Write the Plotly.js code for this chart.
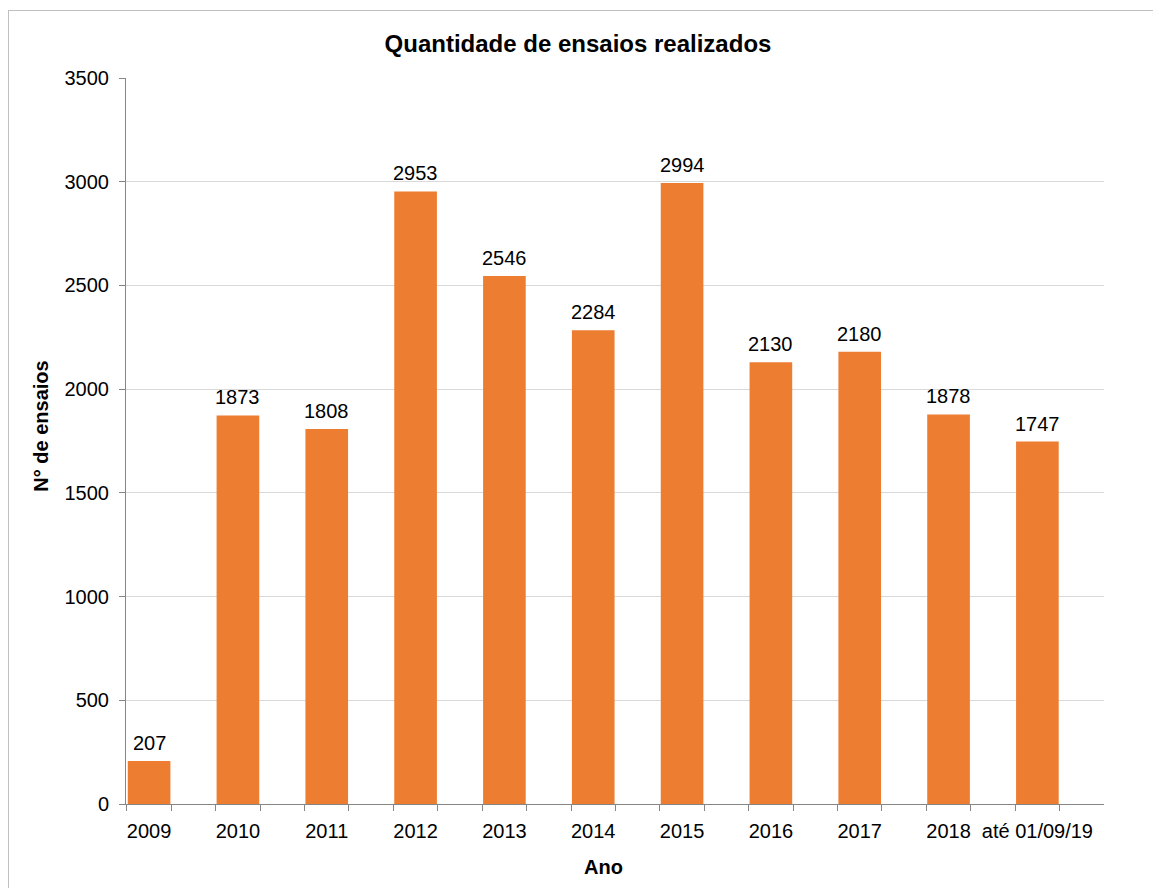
<!DOCTYPE html>
<html>
<head>
<meta charset="utf-8">
<script src="https://cdn.plot.ly/plotly-3.0.1.min.js"></script>
<style>
  html, body { margin: 0; padding: 0; background: #fff; }
  #chart { width: 1153px; height: 888px; position: absolute; left: 0; top: 0; }
  #frame { position: absolute; left: 8px; top: 10px; width: 1200px; height: 900px;
           border: 1px solid #c0c0c0; pointer-events: none; }
</style>
</head>
<body>
<div id="chart"></div>
<div id="frame"></div>
<script>
const categories = ["2009", "2010", "2011", "2012", "2013", "2014", "2015", "2016", "2017", "2018", "até 01/09/19"];
const values = [207, 1873, 1808, 2953, 2546, 2284, 2994, 2130, 2180, 1878, 1747];
const yTicks = [0, 500, 1000, 1500, 2000, 2500, 3000, 3500];

const FONT = "Liberation Sans, Arial, sans-serif";
const FS = 20;
const idx = categories.map((c, i) => i);
const barW = 0.48;
const edgeTicks = [];
idx.forEach(i => { edgeTicks.push(i - 0.25, i + 0.25); });

const trace = {
  type: "bar",
  x: idx,
  y: values,
  width: barW,
  marker: { color: "#ED7D31", line: { width: 0 } },
  hoverinfo: "x+y",
  showlegend: false
};

// invisible helper trace so the tick-mark axis (x2) is drawn
const tickTrace = {
  type: "scatter",
  mode: "markers",
  x: idx,
  y: values,
  xaxis: "x2",
  yaxis: "y",
  marker: { opacity: 0, size: 1 },
  hoverinfo: "skip",
  showlegend: false
};

const labelAnns = idx.map(i => ({
  x: i, y: values[i], xref: "x", yref: "y",
  text: String(values[i]), showarrow: false,
  yanchor: "bottom", yshift: 5,
  font: { family: FONT, size: FS, color: "#000" }
}));

const layout = {
  width: 1153, height: 888,
  margin: { l: 126, r: 49, t: 78, b: 84 },
  paper_bgcolor: "#fff",
  plot_bgcolor: "#fff",
  font: { family: FONT, size: FS, color: "#000" },
  title: {
    text: "<b>Quantidade de ensaios realizados</b>",
    font: { family: FONT, size: 24, color: "#000" },
    x: 0.5013, xanchor: "center", y: 0.951, yanchor: "middle"
  },
  xaxis: {
    range: [-0.26, 10.75],
    tickvals: idx,
    ticktext: categories,
    ticks: "",
    ticklabelstandoff: 9,
    showgrid: false,
    zeroline: false,
    showline: true,
    linecolor: "#868686",
    linewidth: 1,
    tickfont: { family: FONT, size: FS, color: "#000" },
    fixedrange: true
  },
  xaxis2: {
    overlaying: "x",
    anchor: "y",
    side: "bottom",
    range: [-0.26, 10.75],
    tickvals: edgeTicks,
    ticks: "outside",
    ticklen: 6,
    tickcolor: "#868686",
    showticklabels: false,
    showgrid: false,
    zeroline: false,
    showline: false,
    fixedrange: true
  },
  yaxis: {
    range: [0, 3500],
    tickvals: yTicks,
    ticks: "outside",
    ticklen: 6,
    tickcolor: "#868686",
    ticklabelstandoff: 6,
    showline: true,
    linecolor: "#868686",
    linewidth: 1,
    showgrid: true,
    gridcolor: "#d9d9d9",
    gridwidth: 1,
    zeroline: false,
    tickfont: { family: FONT, size: FS, color: "#000" },
    fixedrange: true
  },
  annotations: labelAnns.concat([
    {
      xref: "paper", yref: "paper", x: 0.488, y: -0.0868, yanchor: "middle", xanchor: "center",
      text: "<b>Ano</b>", showarrow: false,
      font: { family: FONT, size: FS, color: "#000" }
    },
    {
      xref: "paper", yref: "paper", x: -0.087, y: 0.521, xanchor: "center", yanchor: "middle",
      text: "<b>N° de ensaios</b>", textangle: -90, showarrow: false,
      font: { family: FONT, size: FS, color: "#000" }
    }
  ])
};

Plotly.newPlot("chart", [trace, tickTrace], layout, { displayModeBar: false, staticPlot: true });
</script>
</body>
</html>
